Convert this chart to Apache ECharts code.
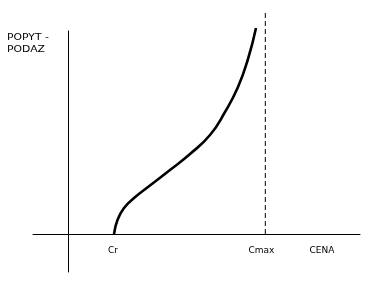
<!DOCTYPE html>
<html>
<head>
<meta charset="utf-8">
<script src="https://cdn.jsdelivr.net/npm/echarts@6/dist/echarts.min.js"></script>
<style>html,body{margin:0;padding:0;background:#fff;}#c{width:391px;height:291px;}</style>
</head>
<body>
<div id="c"></div>
<script>
// Curve: supply/demand vs price (x = price, y = quantity)
const curveX = [46, 49.5, 56, 66, 80, 102, 122, 142, 157, 170, 180, 188];
const curveY = [0, 14, 26, 36, 47, 64, 80, 99, 122, 147, 175, 206];
// Cmax dashed vertical line
const cmaxX = 197.3;
const cmaxTop = 221;
// Tick labels on the price axis
const tickValues = [45, 193.5, 254];
const tickLabels = ['Cr', 'Cmax', 'CENA'];
const yLabel = 'POPYT -\nPODAZ';

const chart = echarts.init(document.getElementById('c'), null, {renderer: 'canvas'});
const font = 'DejaVu Sans';
chart.setOption({
  animation: false,
  backgroundColor: '#fff',
  grid: {left: 33, right: 31, top: 31, bottom: 19},
  xAxis: {
    type: 'value', min: -35, max: 292,
    splitLine: {show: false},
    axisTick: {show: false},
    axisLine: {onZero: true, lineStyle: {color: '#000', width: 1}},
    axisLabel: {
      customValues: tickValues,
      formatter: function (v) { return tickLabels[tickValues.indexOf(v)]; },
      margin: -26, color: '#000', fontSize: 9, fontFamily: font
    }
  },
  yAxis: {
    type: 'value', min: -38, max: 203,
    splitLine: {show: false},
    axisTick: {show: false},
    axisLabel: {show: false},
    axisLine: {onZero: true, lineStyle: {color: '#000', width: 1}}
  },
  graphic: [{
    type: 'text', x: 7, y: 32, scaleX: 1.2,
    style: {text: yLabel, fill: '#000', font: '9px "DejaVu Sans"', lineHeight: 11.5}
  }],
  series: [{
    type: 'line',
    data: curveX.map((x, i) => [x, curveY[i]]),
    smooth: 0.5,
    symbol: 'none',
    clip: false,
    lineStyle: {color: '#000', width: 2.6}
  }, {
    type: 'line',
    data: [[cmaxX, 0], [cmaxX, cmaxTop]],
    symbol: 'none',
    clip: false,
    lineStyle: {color: '#000', width: 1, type: [5, 3]}
  }]
});
</script>
</body>
</html>
